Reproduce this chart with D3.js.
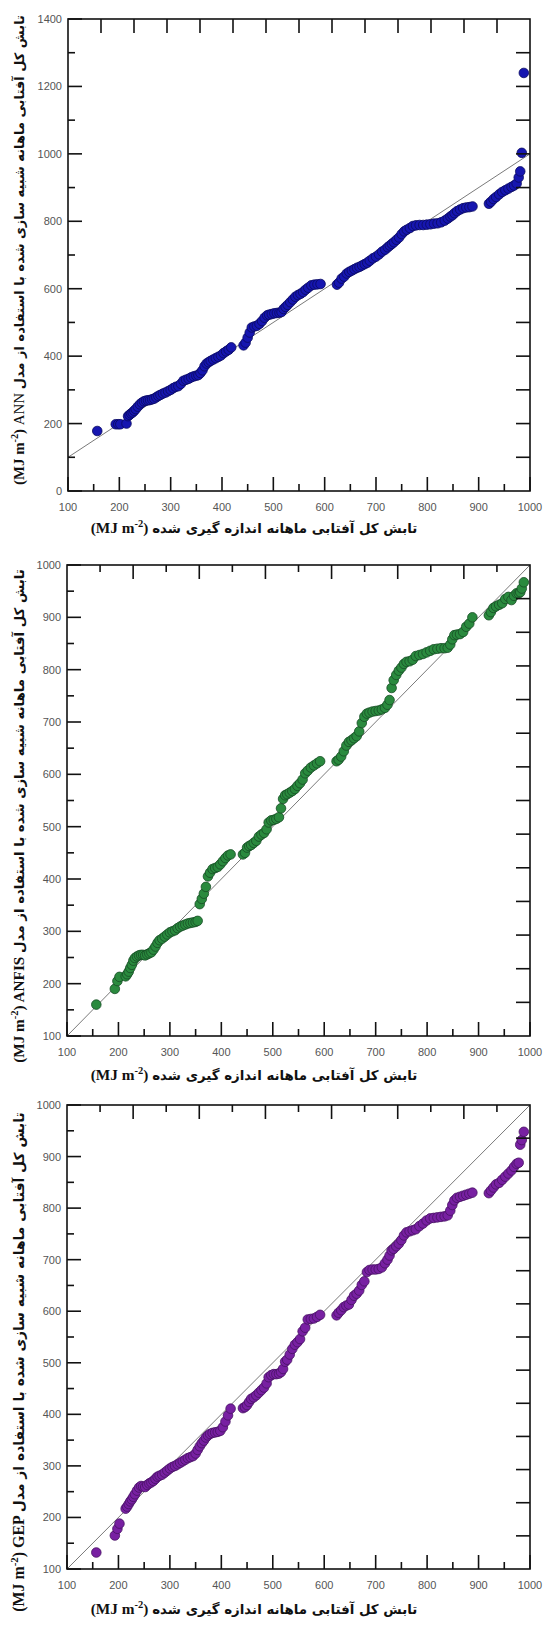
<!DOCTYPE html>
<html>
<head>
<meta charset="utf-8">
<script src="https://cdn.jsdelivr.net/npm/d3@7"></script>
<style>
  body { margin: 0; background: #fff; }
  svg { display: block; }
  .tick-label { font-family: Arial, "Liberation Sans", sans-serif; font-size: 11px; fill: #555; }
  .axis-title { font-family: "Times New Roman", "Liberation Serif", "DejaVu Sans", serif; font-weight: bold; fill: #111; }
</style>
</head>
<body>
<div id="chart"></div>
<script>
// measured monthly global solar radiation (same x for the three panels)
const measured = [
  157, 193, 198, 202,
  214, 217, 220, 223, 226, 229, 232, 236, 240, 244, 248, 252, 256, 260, 264, 268, 272, 276, 280, 285,
  290, 295, 300, 305, 310, 315, 320, 325, 330, 335, 340, 345, 350, 354, 358, 362, 366, 370, 374, 378,
  383, 388, 393, 398, 403, 408, 413, 418,
  442, 446, 450, 454, 458, 463, 468, 473, 478, 483, 488, 492, 497, 502, 507, 512, 516, 520, 524, 528,
  533, 538, 543, 548, 553, 558, 563, 568, 574, 580, 586, 592,
  624, 628, 633, 638, 643, 648, 653, 658, 663, 668, 673, 678, 683, 688, 694, 700, 706, 712, 718, 723,
  727, 731, 735, 740, 745, 750, 755, 760, 766, 772, 778, 785, 792, 799, 806, 813, 820, 827, 834, 840,
  845, 849, 853, 858, 864, 870, 876, 882, 888,
  920, 924, 929, 934, 940, 946, 952, 958, 964, 969, 974, 978, 981, 984, 988
];

// simulated values, ANN model
const annSim = [
  178, 198, 198, 198,
  200, 222, 226, 230, 233, 238, 243, 250, 257, 262, 266, 268, 269, 270, 272, 274, 278, 282, 285, 289,
  292, 296, 300, 305, 309, 311, 318, 327, 330, 333, 337, 340, 342, 344, 350, 358, 370, 378, 382, 386,
  390, 394, 398, 402, 409, 414, 419, 426,
  432, 440, 455, 470, 485, 488, 490, 496, 504, 514, 521, 523, 525, 527, 528, 529, 531, 540, 546, 552,
  560, 568, 576, 581, 585, 590, 597, 603, 610, 612, 613, 614,
  612, 618, 630, 636, 645, 650, 654, 658, 662, 665, 669, 673, 677, 683, 690, 695, 702, 710, 716, 723,
  728, 733, 738, 745, 752, 762, 770, 775, 780, 786, 788, 789, 789, 790, 791, 793, 794, 797, 802, 808,
  814, 818, 824, 830, 835, 839, 841, 842, 844,
  852, 858, 866, 872, 880, 887, 892, 897, 902, 906, 912, 930, 948, 1003, 1240
];

// simulated values, ANFIS model
const anfisSim = [
  160, 190, 205, 213,
  214, 218, 223, 230, 236, 244, 249, 252, 254, 255, 255, 254, 256, 258, 260, 265, 271, 278, 283, 286,
  290, 294, 298, 300, 302, 306, 309, 311, 313, 315, 316, 317, 318, 320, 352, 362, 372, 385, 405, 412,
  419, 421, 423, 428, 434, 440, 445, 447,
  447, 450, 460, 463, 465, 469, 473, 481, 485, 488, 495, 508, 512, 513, 515, 518, 535, 553, 560, 562,
  565, 568, 572, 578, 583, 590, 602, 607, 613, 617, 621, 625,
  625, 628, 634, 644, 655, 662, 665, 669, 673, 682, 698, 710, 716, 718, 720, 721, 722, 724, 727, 733,
  742, 765, 780, 790, 798, 804, 811, 815, 816, 819, 826, 828, 830, 833, 836, 839, 840, 841, 841, 842,
  848, 858, 866, 867, 868, 872, 882, 888, 900,
  904, 910, 918, 921, 924, 927, 935, 939, 933, 941, 946, 946, 948, 955, 967
];

// simulated values, GEP model
const gepSim = [
  132, 165, 178, 188,
  217, 221, 226, 231, 235, 240, 245, 252, 258, 261, 260, 259, 263, 266, 268, 271, 275, 279, 281, 283,
  287, 291, 295, 298, 300, 303, 306, 309, 312, 315, 317, 319, 324, 331, 338, 344, 349, 355, 359, 362,
  364, 365, 366, 368, 375, 386, 398, 411,
  412, 414, 418, 424, 430, 433, 437, 442, 447, 452, 460, 472, 476, 478, 478, 479, 482, 488, 502, 506,
  516, 527, 535, 540, 546, 561, 568, 584, 585, 586, 589, 593,
  592, 597, 602, 608, 611, 613, 622, 630, 634, 640, 651, 658, 676, 680, 681, 681, 682, 685, 693, 700,
  708, 718, 721, 726, 731, 738, 747, 753, 755, 757, 759, 765, 770, 776, 780, 781, 782, 783, 784, 786,
  795, 806, 815, 820, 822, 824, 826, 828, 830,
  829, 834, 840, 846, 849, 855, 861, 867, 873, 880, 886, 888, 923, 932, 948
];

// tick labels
const xTickLabels = [100, 200, 300, 400, 500, 600, 700, 800, 900, 1000];
const annYTickLabels = [0, 200, 400, 600, 800, 1000, 1200, 1400];
const yTickLabels = [100, 200, 300, 400, 500, 600, 700, 800, 900, 1000];

const xTitleText = "تابش کل آفتابی ماهانه اندازه گیری شده";
const yTitleText = "تابش کل آفتابی ماهانه شبیه سازی شده با استفاده از مدل";

const width = 555, height = 1625;

const svg = d3.select("#chart").append("svg")
  .attr("width", width)
  .attr("height", height);

svg.append("rect").attr("width", width).attr("height", height).attr("fill", "#fff");

const panels = [
  { model: "ANN", modelBold: false, values: annSim, yDomain: [0, 1400], yLabels: annYTickLabels, yMinorStep: 100,
    left: 68, right: 530, top: 19, bottom: 491, fill: "#1616b0", stroke: "#0a0a60",
    xTitleY: 533, yTitleMid: 250, yTitleLen: 470, rightTicksFromY: true, topAllLong: true },
  { model: "ANFIS", modelBold: true, values: anfisSim, yDomain: [100, 1000], yLabels: yTickLabels, yMinorStep: 50,
    left: 67, right: 530, top: 565, bottom: 1036, fill: "#2a8a3e", stroke: "#174d25",
    xTitleY: 1080, yTitleMid: 816, yTitleLen: 494, rightTicksFromY: false, topAllLong: false },
  { model: "GEP", modelBold: true, values: gepSim, yDomain: [100, 1000], yLabels: yTickLabels, yMinorStep: 50,
    left: 67, right: 530, top: 1105, bottom: 1569, fill: "#7820a2", stroke: "#481163",
    xTitleY: 1614, yTitleMid: 1362, yTitleLen: 500, rightTicksFromY: false, topAllLong: false }
];

const majorLen = 14, minorLen = 7;

// scale the font sizes of a title so that it covers the wanted length
function fitTitle(text, target) {
  const w = text.node().getBBox().width;
  const k = target / w;
  text.selectAll("tspan").each(function () {
    const t = d3.select(this);
    t.style("font-size", (+t.attr("data-size") * k) + "px");
    if (t.attr("data-dy")) t.attr("dy", +t.attr("data-dy") * k);
  });
}

function addTitleParts(text, model, modelBold, persian) {
  text.append("tspan").attr("data-size", 16).text("(MJ m");
  text.append("tspan").attr("data-size", 11).attr("data-dy", -6).attr("dy", -6).text("-2");
  text.append("tspan").attr("data-size", 16).attr("data-dy", 6).attr("dy", 6).text(") ");
  if (model) {
    text.append("tspan").attr("data-size", 16)
      .style("font-weight", modelBold ? "bold" : "normal").text(model + " ");
  }
  text.append("tspan").attr("data-size", 14)
    .style("font-family", "'DejaVu Sans', sans-serif").text(persian);
  text.selectAll("tspan").each(function () {
    d3.select(this).style("font-size", d3.select(this).attr("data-size") + "px");
  });
}

function drawPanel(p) {
  const g = svg.append("g");

  const x = d3.scaleLinear().domain([100, 1000]).range([p.left, p.right]);
  const y = d3.scaleLinear().domain(p.yDomain).range([p.bottom, p.top]);
  // top and right axes of the original figure use a 0-1400 division
  const xTop = d3.scaleLinear().domain([0, 1400]).range([p.left, p.right]);
  const yRight = d3.scaleLinear().domain([0, 1400]).range([p.bottom, p.top]);

  // 1:1 line
  g.append("line")
    .attr("x1", x(100)).attr("y1", y(100))
    .attr("x2", x(1000)).attr("y2", y(1000))
    .attr("stroke", "#7a7a7a").attr("stroke-width", 1);

  // points
  g.selectAll("circle")
    .data(measured.map((m, i) => ({ m: m, s: p.values[i] })))
    .enter().append("circle")
    .attr("cx", d => x(d.m))
    .attr("cy", d => y(d.s))
    .attr("r", 4.8)
    .attr("fill", p.fill)
    .attr("stroke", p.stroke)
    .attr("stroke-width", 0.8);

  const ticks = g.append("g").attr("stroke", "#111").attr("stroke-width", 1.6);

  // bottom ticks
  xTickLabels.forEach(v => {
    ticks.append("line").attr("x1", x(v)).attr("x2", x(v)).attr("y1", p.bottom).attr("y2", p.bottom - majorLen);
  });
  d3.range(150, 1000, 100).forEach(v => {
    ticks.append("line").attr("x1", x(v)).attr("x2", x(v)).attr("y1", p.bottom).attr("y2", p.bottom - minorLen);
  });

  // top ticks
  d3.range(100, 1400, 100).forEach(v => {
    const len = (p.topAllLong || v % 200 === 0) ? majorLen : minorLen;
    ticks.append("line").attr("x1", xTop(v)).attr("x2", xTop(v)).attr("y1", p.top).attr("y2", p.top + len);
  });

  // left ticks
  p.yLabels.forEach(v => {
    ticks.append("line").attr("x1", p.left).attr("x2", p.left + majorLen).attr("y1", y(v)).attr("y2", y(v));
  });
  d3.range(p.yDomain[0] + p.yMinorStep, p.yDomain[1], p.yMinorStep * 2).forEach(v => {
    ticks.append("line").attr("x1", p.left).attr("x2", p.left + minorLen).attr("y1", y(v)).attr("y2", y(v));
  });

  // right ticks
  const ry = p.rightTicksFromY ? y : yRight;
  d3.range(100, 1400, 100).forEach(v => {
    ticks.append("line").attr("x1", p.right).attr("x2", p.right - majorLen).attr("y1", ry(v)).attr("y2", ry(v));
  });

  // frame
  g.append("rect")
    .attr("x", p.left).attr("y", p.top)
    .attr("width", p.right - p.left).attr("height", p.bottom - p.top)
    .attr("fill", "none").attr("stroke", "#111").attr("stroke-width", 1.6);

  // tick labels
  g.selectAll(".xl").data(xTickLabels).enter().append("text")
    .attr("class", "tick-label")
    .attr("x", d => x(d)).attr("y", p.bottom + 20)
    .attr("text-anchor", "middle")
    .text(d => d);

  g.selectAll(".yl").data(p.yLabels).enter().append("text")
    .attr("class", "tick-label")
    .attr("x", p.left - 6).attr("y", d => y(d) + 4)
    .attr("text-anchor", "end")
    .text(d => d);

  // x title
  const xt = g.append("text")
    .attr("class", "axis-title")
    .attr("x", 254).attr("y", p.xTitleY)
    .attr("text-anchor", "middle")
    .attr("direction", "ltr");
  addTitleParts(xt, null, true, xTitleText);
  fitTitle(xt, 327);

  // y title
  const yt = g.append("text")
    .attr("class", "axis-title")
    .attr("transform", "translate(24," + p.yTitleMid + ") rotate(-90)")
    .attr("text-anchor", "middle")
    .attr("direction", "ltr");
  addTitleParts(yt, p.model, p.modelBold, yTitleText);
  fitTitle(yt, p.yTitleLen);
}

panels.forEach(drawPanel);
</script>
</body>
</html>
